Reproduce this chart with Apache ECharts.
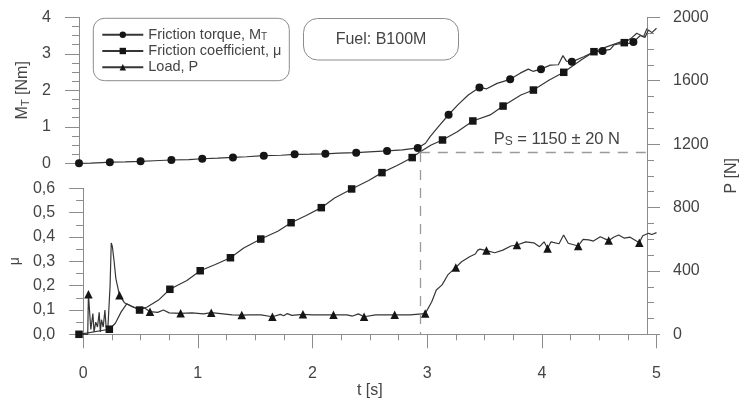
<!DOCTYPE html>
<html><head><meta charset="utf-8">
<script src="https://cdn.jsdelivr.net/npm/echarts@6/dist/echarts.min.js"></script>
<style>html,body{margin:0;padding:0;background:#fff}#c{width:748px;height:400px}</style>
</head><body><div id="c"></div>
<script>
// ---- data ----
const torqueT = [0,0.1,0.2,0.267,0.4,0.533,0.65,0.8,0.95,1.067,1.2,1.333,1.45,1.6,1.75,1.867,2.0,2.133,2.25,2.4,2.55,2.667,2.8,2.933,3.0,3.04,3.11,3.2,3.28,3.37,3.467,3.53,3.62,3.733,3.82,3.89,3.93,4.0,4.08,4.15,4.19,4.22,4.267,4.37,4.45,4.533,4.6,4.63,4.68,4.72,4.8,4.86,4.9,4.93,4.96,5.0];
const torqueV = [0,0.005,0.02,0.03,0.04,0.055,0.07,0.09,0.1,0.125,0.14,0.16,0.18,0.21,0.22,0.245,0.25,0.26,0.28,0.29,0.32,0.34,0.37,0.42,0.55,0.73,1.0,1.33,1.6,1.87,2.08,2.04,2.19,2.3,2.47,2.58,2.52,2.58,2.69,2.7,2.95,2.8,2.78,2.92,3.04,3.08,3.12,3.24,3.28,3.25,3.32,3.5,3.45,3.65,3.58,3.7];

const loadT = [0,0.267,0.32,0.37,0.42,0.47,0.533,0.6,0.7,0.8,0.95,1.067,1.2,1.333,1.45,1.6,1.75,1.867,2.0,2.133,2.25,2.4,2.55,2.667,2.8,2.933,3.0,3.1,3.2,3.33,3.467,3.62,3.733,3.89,4.0,4.14,4.267,4.42,4.533,4.65,4.77,4.8,4.86,4.91,4.97,5.0];
const loadV = [0,32,70,140,192,175,153,172,216,284,340,401,440,483,545,601,650,704,750,799,860,917,970,1020,1065,1115,1150,1194,1226,1278,1346,1384,1440,1510,1541,1604,1653,1730,1783,1815,1845,1840,1867,1899,1877,1930];

const muT = [0,0.04,0.046,0.067,0.085,0.095,0.11,0.125,0.14,0.15,0.16,0.175,0.19,0.2,0.215,0.235,0.245,0.255,0.27,0.285,0.317,0.36,0.42,0.48,0.53,0.583,0.65,0.7,0.75,0.85,0.95,1.05,1.117,1.2,1.3,1.383,1.45,1.55,1.65,1.72,1.75,1.78,1.82,1.917,2.0,2.1,2.183,2.3,2.35,2.4,2.45,2.55,2.717,2.85,2.983,3.04,3.08,3.13,3.18,3.25,3.3,3.37,3.42,3.44,3.46,3.517,3.59,3.66,3.73,3.783,3.86,3.93,3.98,4.02,4.05,4.08,4.15,4.19,4.23,4.317,4.36,4.41,4.45,4.51,4.583,4.63,4.67,4.72,4.77,4.85,4.88,4.93,4.96,5.0];
const muV = [0,0,0.165,0.02,0.085,0.01,0.05,0.03,0.09,0.01,0.06,0.03,0.1,0.03,0.02,0.2,0.375,0.36,0.3,0.23,0.16,0.13,0.115,0.105,0.11,0.093,0.09,0.1,0.088,0.086,0.088,0.084,0.089,0.085,0.08,0.079,0.08,0.08,0.072,0.082,0.076,0.085,0.078,0.082,0.08,0.08,0.08,0.08,0.075,0.084,0.072,0.08,0.08,0.08,0.085,0.134,0.182,0.203,0.244,0.275,0.298,0.319,0.33,0.345,0.35,0.344,0.335,0.346,0.363,0.367,0.38,0.376,0.36,0.38,0.353,0.38,0.372,0.408,0.374,0.363,0.39,0.388,0.383,0.401,0.385,0.4,0.408,0.395,0.399,0.376,0.405,0.415,0.41,0.418];

const marksA = [0,0.267,0.533,0.8,1.067,1.333,1.6,1.867,2.133,2.4,2.667,2.933,3.2,3.467,3.733,4.0,4.267,4.533,4.8];
const marksB = [0.046,0.317,0.583,0.85,1.117,1.383,1.65,1.917,2.183,2.45,2.717,2.983,3.25,3.517,3.783,4.05,4.317,4.583,4.85];

const psTime = 3, psValue = 1150, psErr = 20, psLabelT = 3.65;
const fuelText = 'Fuel: B100M';

const N_TORQUE = 'Friction torque, MT';
const N_COEF = 'Friction coefficient, μ';
const N_LOAD = 'Load, P';

// ---- chart ----
const FONT = '"Liberation Sans", Arial, sans-serif';
const TXT = '#444';
const AX = '#8c8c8c';
const LINE = '#363636';
const MARK = '#151515';

const pairs = (t, v) => t.map((x, i) => [x, v[i]]);
const setA = new Set(marksA), setB = new Set(marksB);

const G = { left: 79, right: 91.5 };
const commonAxis = {
  axisLine: { show: true, onZero: false, lineStyle: { color: AX, width: 1 } },
  axisTick: { show: true, length: 14, lineStyle: { color: AX } },
  minorTick: { show: true, length: 7, lineStyle: { color: AX } },
  splitLine: { show: false },
  axisLabel: { color: TXT, fontFamily: FONT, fontSize: 16 },
};

const chart = echarts.init(document.getElementById('c'), null, { renderer: 'canvas' });
chart.setOption({
  animation: false,
  backgroundColor: '#fff',
  grid: [
    { left: G.left, right: G.right, top: 17.3, height: 146 },
    { left: G.left, right: G.right, top: 188.3, height: 146 },
    { left: G.left, right: G.right, top: 17.3, bottom: 65.7 }
  ],
  xAxis: [
    { gridIndex: 0, type: 'value', min: 0, max: 5, show: false },
    Object.assign({}, commonAxis, {
      gridIndex: 1, type: 'value', min: 0, max: 5, interval: 1,
      minorTick: { show: true, splitNumber: 4, length: 6, lineStyle: { color: AX } },
      axisLabel: { color: TXT, fontFamily: FONT, fontSize: 16, margin: 31 },
      name: 't [s]', nameLocation: 'middle', nameGap: 48,
      nameTextStyle: { color: TXT, fontFamily: FONT, fontSize: 16 }
    }),
    { gridIndex: 2, type: 'value', min: 0, max: 5, show: false }
  ],
  yAxis: [
    Object.assign({}, commonAxis, {
      gridIndex: 0, type: 'value', min: 0, max: 4, interval: 1,
      minorTick: { show: true, splitNumber: 4, length: 7, lineStyle: { color: AX } },
      axisLabel: { color: TXT, fontFamily: FONT, fontSize: 16, margin: 28 },
      name: '{m|M}{s|T}{m| [Nm]}', nameLocation: 'middle', nameGap: 45,
      nameTextStyle: { color: TXT, fontFamily: FONT, fontSize: 16,
        rich: { m: { fontFamily: FONT, fontSize: 16, color: TXT, lineHeight: 18 },
                s: { fontFamily: FONT, fontSize: 11, color: TXT, lineHeight: 11, padding: [6, 0, 0, 0] } } }
    }),
    Object.assign({}, commonAxis, {
      gridIndex: 1, type: 'value', min: 0, max: 0.6, interval: 0.1,
      minorTick: { show: true, splitNumber: 2, length: 7, lineStyle: { color: AX } },
      axisLabel: { color: TXT, fontFamily: FONT, fontSize: 16, margin: 28,
        formatter: v => v.toFixed(1).replace('.', ',') },
      name: 'μ', nameLocation: 'middle', nameGap: 60,
      nameTextStyle: { color: TXT, fontFamily: FONT, fontSize: 14 }
    }),
    Object.assign({}, commonAxis, {
      gridIndex: 2, type: 'value', position: 'right', min: 0, max: 2000, interval: 400,
      minorTick: { show: true, splitNumber: 4, length: 7, lineStyle: { color: AX } },
      axisTick: { show: true, length: 13, lineStyle: { color: AX } },
      axisLabel: { color: TXT, fontFamily: FONT, fontSize: 16, margin: 26, formatter: v => String(v) },
      name: 'P [N]', nameLocation: 'middle', nameGap: 77,
      nameTextStyle: { color: TXT, fontFamily: FONT, fontSize: 16 }
    })
  ],
  legend: {
    orient: 'vertical', left: 93.3, top: 18.3,
    data: [N_TORQUE, N_COEF, N_LOAD],
    selectedMode: false,
    borderColor: AX, borderWidth: 1, borderRadius: 11,
    padding: [9, 8, 6, 8],
    itemWidth: 41, itemHeight: 8, itemGap: 1.2,
    formatter: n => n === N_TORQUE ? '{n|Friction torque, M}{s|T}' : '{n|' + n + '}',
    textStyle: { color: TXT, fontFamily: FONT, fontSize: 14.5,
      rich: { n: { fontFamily: FONT, fontSize: 14.5, color: TXT, lineHeight: 16 },
              s: { fontFamily: FONT, fontSize: 10, color: TXT, lineHeight: 10, padding: [5, 0, 0, 0] } } }
  },
  graphic: [
    { type: 'rect', shape: { x: 303.5, y: 18.5, width: 155, height: 41.5, r: 14 },
      style: { fill: '#fff', stroke: AX, lineWidth: 1 } },
    { type: 'text', x: 381, y: 39.5,
      style: { text: fuelText, fill: TXT, font: '16px ' + FONT, align: 'center', verticalAlign: 'middle' } }
  ],
  series: [
    {
      name: N_TORQUE, type: 'line', xAxisIndex: 0, yAxisIndex: 0,
      data: pairs(torqueT, torqueV),
      symbol: 'circle', showAllSymbol: true,
      symbolSize: v => setA.has(v[0]) ? 8 : 0,
      lineStyle: { color: LINE, width: 1.2 }, itemStyle: { color: MARK },
      z: 3
    },
    {
      name: N_COEF, type: 'line', xAxisIndex: 2, yAxisIndex: 2,
      data: pairs(loadT, loadV),
      symbol: 'rect', showAllSymbol: true,
      symbolSize: v => setA.has(v[0]) ? 7.5 : 0,
      lineStyle: { color: LINE, width: 1.2 }, itemStyle: { color: MARK },
      z: 3,
      markLine: {
        silent: true, symbol: ['none', 'none'],
        lineStyle: { color: '#9a9a9a', width: 1.3, type: [10, 8] },
        label: { show: false },
        data: [
          [{ coord: [psTime, psValue] }, { coord: [5, psValue] }],
          [{ coord: [psTime, psValue] }, { coord: [psTime, 0] }]
        ]
      },
      markPoint: {
        silent: true, symbol: 'circle', symbolSize: 0,
        data: [{ coord: [psLabelT, psValue] }],
        label: {
          show: true, position: 'right', distance: 0, offset: [0, -13],
          formatter: '{a|P}{b|S}{a| = ' + psValue + ' ± ' + psErr + ' N}',
          rich: { a: { fontFamily: FONT, fontSize: 16.5, color: TXT, lineHeight: 18 },
                  b: { fontFamily: FONT, fontSize: 12, color: TXT, lineHeight: 12, padding: [6, 0, 0, 0] } }
        }
      }
    },
    {
      name: N_LOAD, type: 'line', xAxisIndex: 1, yAxisIndex: 1,
      data: pairs(muT, muV),
      symbol: 'triangle', showAllSymbol: true,
      symbolSize: v => setB.has(v[0]) ? 8.5 : 0,
      lineStyle: { color: LINE, width: 1.2 }, itemStyle: { color: MARK },
      z: 3
    }
  ]
});
</script></body></html>
